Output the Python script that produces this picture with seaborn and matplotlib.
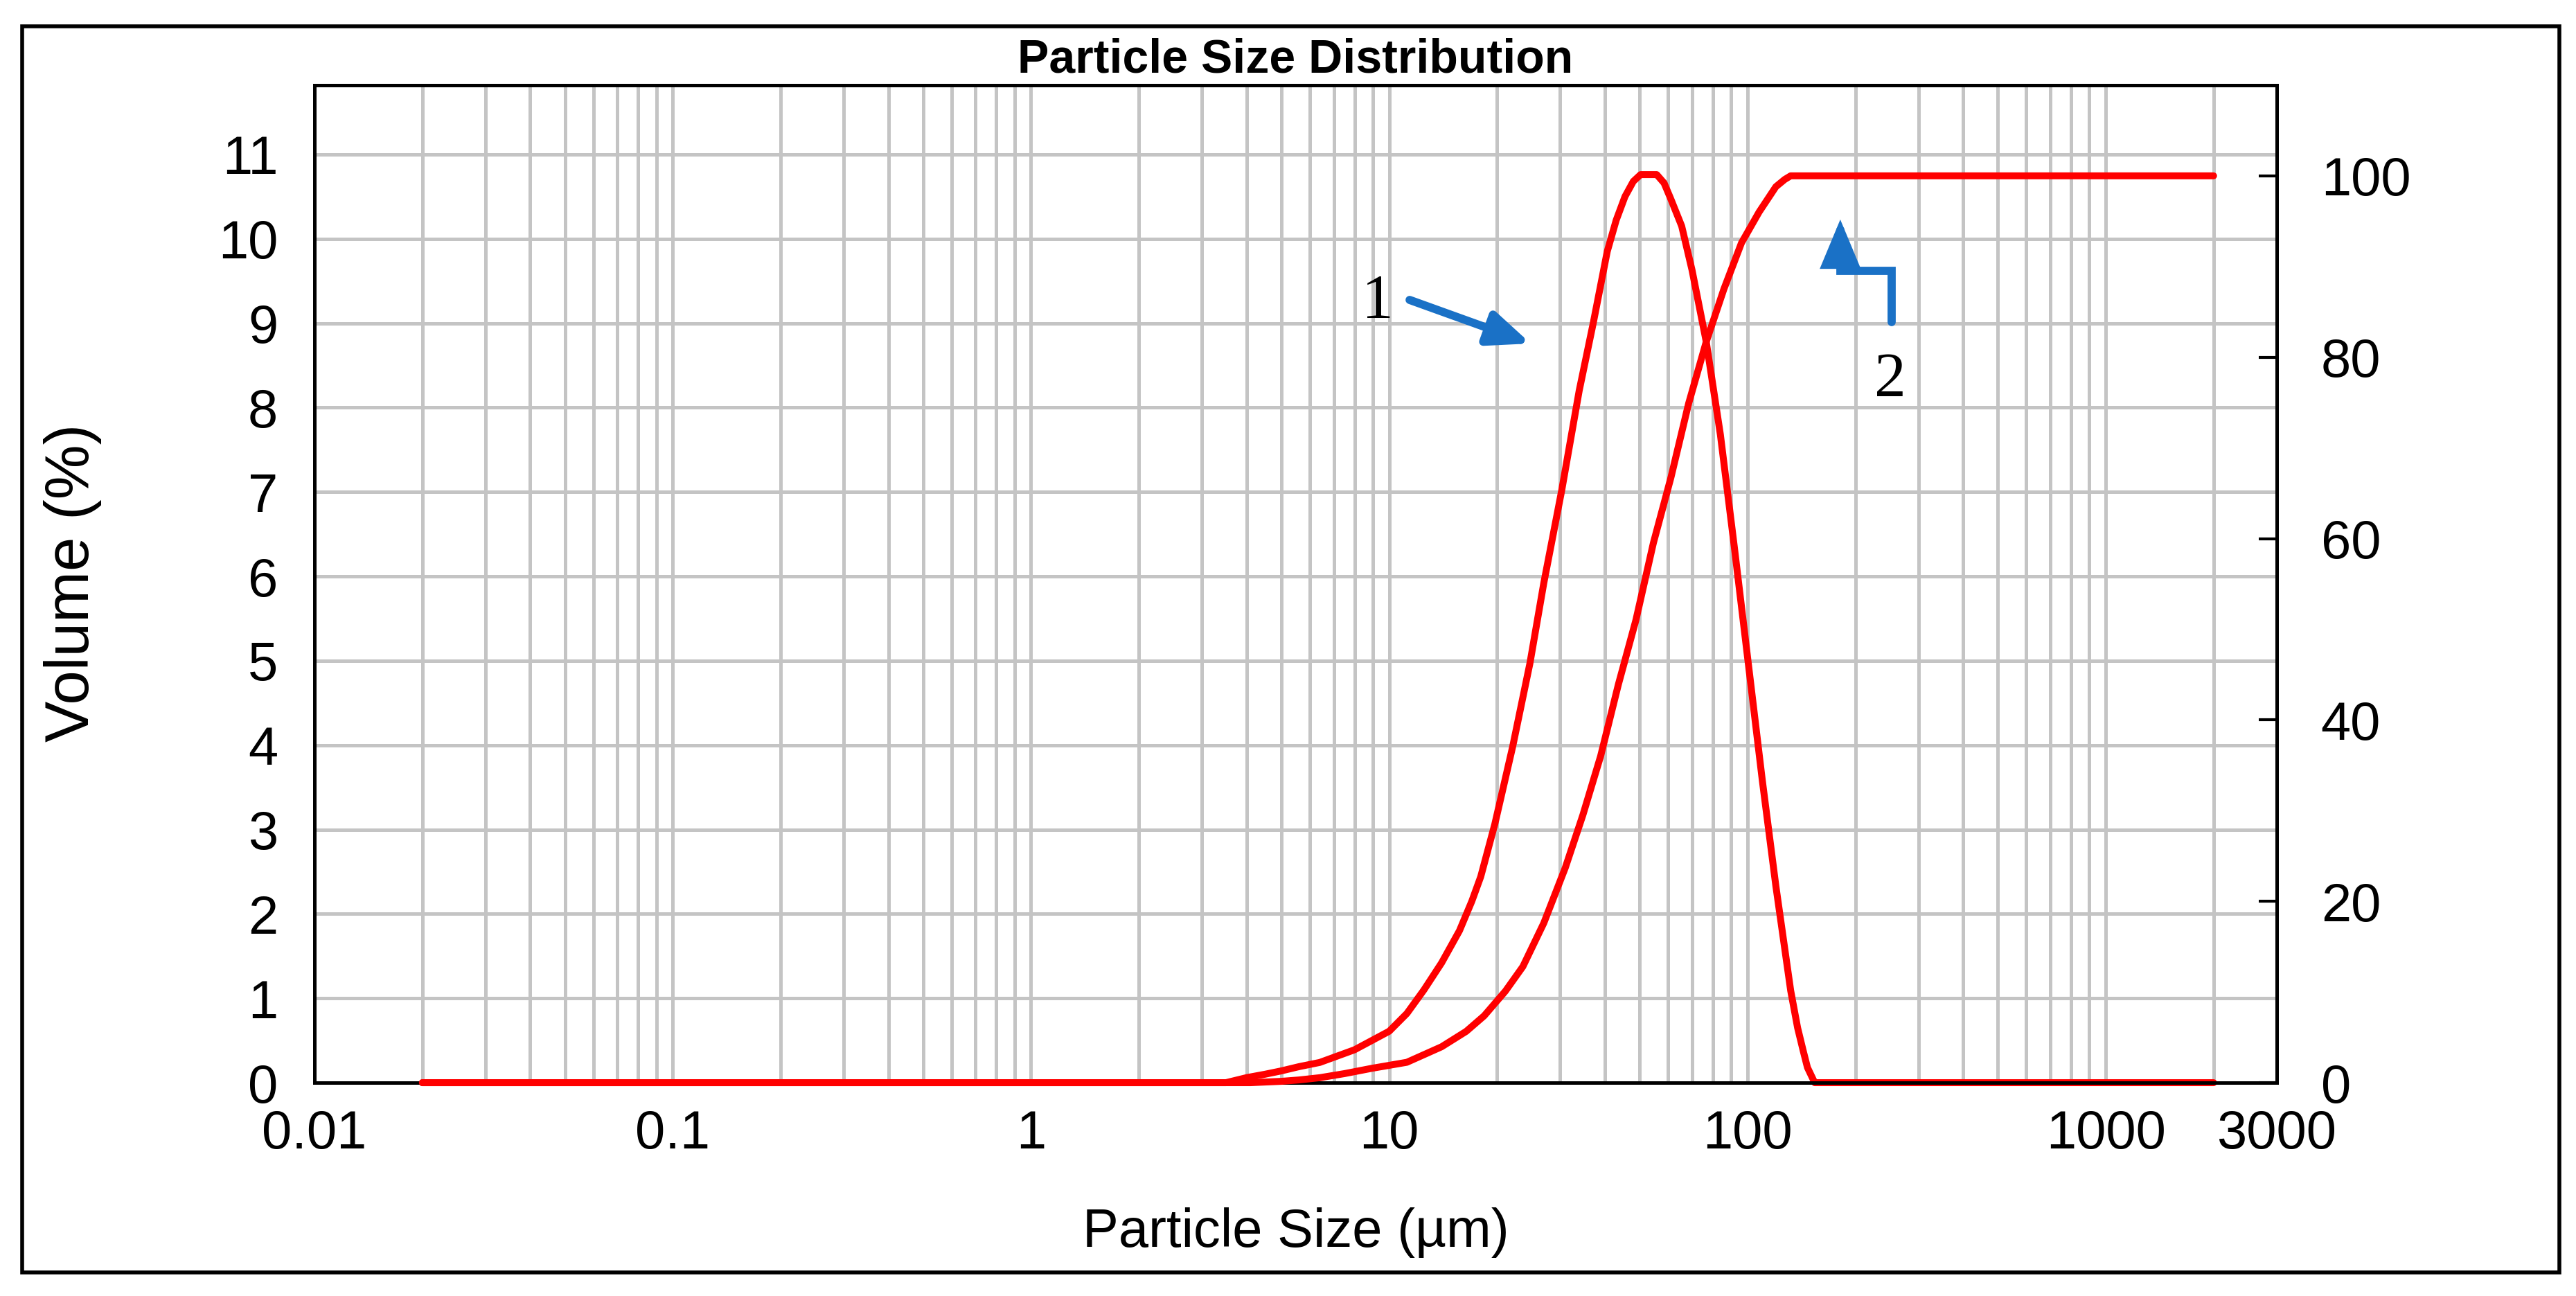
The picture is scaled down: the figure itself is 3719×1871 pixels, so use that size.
import numpy as np
import matplotlib
matplotlib.use("Agg")
import matplotlib.pyplot as plt
import seaborn as sns
from matplotlib.ticker import LogLocator, NullFormatter
from matplotlib.patches import Rectangle, FancyArrowPatch
from matplotlib.path import Path

# particle size axis (um) and the two curves
size_freq = [0.02, 3.5, 4.0, 4.5, 5.0, 5.6, 6.4, 8.0, 10.0, 11.2, 12.5, 14.0, 15.7, 17.0,
             18.0, 19.7, 22.1, 24.7, 27.0, 30.3, 33.9, 37.1, 40.6, 43.0, 45.5, 48.0, 50.3,
             55.8, 58.5, 61.1, 65.5, 70.0, 76.7, 84.0, 91.8, 100.5, 110, 120, 132, 138,
             143, 147, 154, 2000]
vol_freq = [0, 0, 0.06, 0.10, 0.14, 0.19, 0.24, 0.39, 0.61, 0.82, 1.10, 1.42, 1.80, 2.15,
            2.44, 3.06, 3.98, 4.97, 5.92, 7.02, 8.20, 9.0, 9.85, 10.22, 10.50, 10.68, 10.76,
            10.76, 10.66, 10.47, 10.15, 9.63, 8.78, 7.68, 6.36, 4.97, 3.58, 2.33, 1.09, 0.65,
            0.38, 0.18, 0.0, 0.0]

size_cum = [0.02, 4.1, 5.0, 5.6, 6.4, 7.5, 8.9, 11.2, 14.0, 16.4, 18.4, 21.1, 23.6, 27.0,
            31.0, 34.7, 38.9, 43.6, 48.8, 54.6, 61.1, 68.5, 76.7, 85.9, 96.2, 107.7, 120,
            127, 132, 2000]
vol_cum = [0, 0, 0.15, 0.3, 0.55, 1.0, 1.57, 2.25, 3.96, 5.66, 7.37, 10.1, 12.8, 17.6,
           23.7, 29.5, 36.0, 43.9, 51.0, 59.5, 66.7, 74.9, 81.7, 87.5, 92.6, 96.0, 98.8,
           99.6, 100, 100]

x_ticks = [0.01, 0.1, 1, 10, 100, 1000, 3000]
x_labels = ["0.01", "0.1", "1", "10", "100", "1000", "3000"]
left_ticks = list(range(0, 12))
right_ticks = [0, 20, 40, 60, 80, 100]

sns.set_style("white")
plt.rcParams["font.family"] = ["Liberation Sans Narrow", "Liberation Sans", "DejaVu Sans"]
plt.rcParams["text.color"] = "black"
plt.rcParams["xtick.color"] = "black"
plt.rcParams["ytick.color"] = "black"
plt.rcParams["axes.labelcolor"] = "black"

fig = plt.figure(figsize=(37.19, 18.71), dpi=100)
ax = fig.add_axes([0.1221, 0.1646, 0.7617, 0.7697])
ax.set_xscale("log")

grid_col = "#c4c4c4"
red = "#ff0000"
blue = "#1a71c6"
tick_fs = 56

sns.lineplot(x=size_freq, y=vol_freq, ax=ax, color=red, linewidth=7.2,
             sort=False, estimator=None, clip_on=False, solid_capstyle="round")

ax.set_xlim(0.01, 3000)
ax.set_ylim(0, 11.82)
ax.set_xticks(x_ticks)
ax.set_xticklabels(x_labels)
ax.xaxis.set_minor_locator(LogLocator(base=10, subs=np.arange(2, 10)))
ax.xaxis.set_minor_formatter(NullFormatter())
ax.set_yticks(left_ticks)
ax.set_yticklabels([str(t) for t in left_ticks])
ax.grid(True, which="both", axis="x", color=grid_col, lw=3.6)
ax.grid(True, which="major", axis="y", color=grid_col, lw=3.6)
ax.set_axisbelow(True)
ax.tick_params(axis="both", which="both", length=0, labelsize=tick_fs)
ax.tick_params(axis="y", pad=38)
ax.tick_params(axis="x", pad=27)

for sp in ax.spines.values():
    sp.set_linewidth(3.6)
    sp.set_color("black")

ax2 = ax.twinx()
sns.lineplot(x=size_cum, y=vol_cum, ax=ax2, color=red, linewidth=7.2,
             sort=False, estimator=None, clip_on=False, solid_capstyle="round", zorder=3)
ax2.set_ylim(0, 110)
ax2.set_yticks(right_ticks)
ax2.set_yticklabels([str(t) for t in right_ticks])
ax2.tick_params(axis="y", direction="in", length=19, width=3, pad=46, labelsize=tick_fs)
ax2.grid(False)
ax2.set_ylabel("")
for sp in ax2.spines.values():
    sp.set_linewidth(3.6)
    sp.set_color("black")

ax.set_ylabel("")
ax.set_xlabel("")
ax.text(0.5, -0.1646, "Particle Size (µm)", transform=ax.transAxes,
        ha="center", va="baseline", fontsize=56)
ax.text(-0.1232, 0.5014, "Volume (%)", transform=ax.transAxes, rotation=90,
        ha="center", va="center", fontsize=64, family=["Liberation Sans", "DejaVu Sans"])
ax.text(0.5, 1.0125, "Particle Size Distribution", transform=ax.transAxes,
        ha="center", va="baseline", fontsize=49, weight="bold")

# annotation arrows and labels
ax2.text(0.5418, 0.7819, "1", transform=ax.transAxes, ha="center", va="center",
         fontsize=66, family=["Liberation Serif", "DejaVu Serif"])
ax2.text(0.8030, 0.7035, "2", transform=ax.transAxes, ha="center", va="center",
         fontsize=66, family=["Liberation Serif", "DejaVu Serif"])

arr1 = FancyArrowPatch((0.5581, 0.7847), (0.6198, 0.7410), transform=ax.transAxes,
                       arrowstyle="-|>,head_length=0.36,head_width=0.15",
                       mutation_scale=100, lw=8.5, color=blue, shrinkA=0, shrinkB=0)
ax2.add_patch(arr1)

bent = Path([(0.8037, 0.7625), (0.8037, 0.8139), (0.7776, 0.8139), (0.7776, 0.8653)],
            [Path.MOVETO, Path.LINETO, Path.LINETO, Path.LINETO])
arr2 = FancyArrowPatch(path=bent, transform=ax.transAxes,
                       arrowstyle="-|>,head_length=0.36,head_width=0.15",
                       mutation_scale=100, lw=8.5, color=blue, joinstyle="miter")
ax2.add_patch(arr2)

# outer frame around the whole chart
fig.patches.append(Rectangle((0.0086, 0.0182), 0.9849, 0.9615, transform=fig.transFigure,
                             fill=False, lw=4, ec="black"))

fig.savefig("out.png", dpi=100)
